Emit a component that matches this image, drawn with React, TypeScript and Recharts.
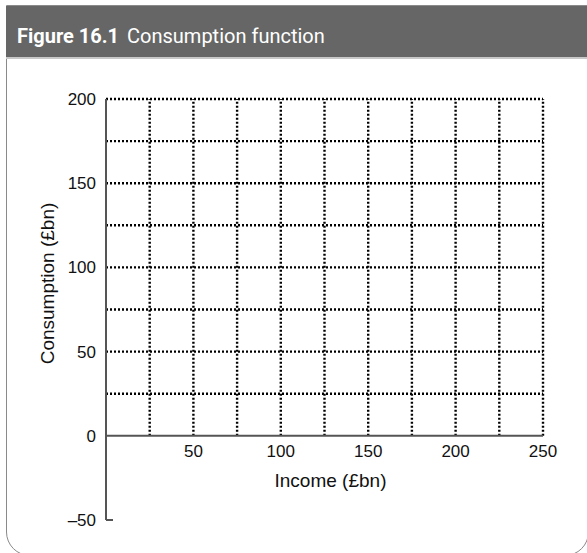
import { ComposedChart, Label, Line, XAxis, YAxis } from "recharts";

const X_TICKS = [50, 100, 150, 200, 250];
const Y_TICKS = [-50, 0, 50, 100, 150, 200];
const X_GRID = [25, 50, 75, 100, 125, 150, 175, 200, 225, 250];
const Y_GRID = [25, 50, 75, 100, 125, 150, 175, 200];
const X_MIN = 0;
const X_MAX = 250;
const Y_MIN = -50;
const Y_MAX = 200;

const AXIS = "#555";
const DOTS = "#000";
const TEXT = "#111";
const FONT = "'Liberation Sans', Arial, sans-serif";
const DASH = "2 2";

// each grid / axis segment is a tiny two-point series
type Pt = { x: number; y: number };
const vLines: Pt[][] = X_GRID.map((x) => [
  { x, y: 0 },
  { x, y: Y_MAX },
]);
const hLines: Pt[][] = Y_GRID.map((y) => [
  { x: X_MIN, y },
  { x: X_MAX, y },
]);
const xAxisLine: Pt[] = [
  { x: X_MIN, y: 0 },
  { x: X_MAX, y: 0 },
];
const bottomTick: Pt[] = [
  { x: X_MIN, y: Y_MIN },
  { x: 4, y: Y_MIN },
];

// book style uses an en dash for negatives
const fmtTick = (v: number) => (v < 0 ? `\u2013${Math.abs(v)}` : String(v));

function YTitle(props: any) {
  const { viewBox } = props;
  const x = viewBox.x + 1;
  const y = viewBox.y + viewBox.height / 2 - 26;
  return (
    <text
      x={x}
      y={y}
      transform={`rotate(-90, ${x}, ${y})`}
      textAnchor="middle"
      dominantBaseline="central"
      fontSize={19}
      fill={TEXT}
      fontFamily={FONT}
    >
      Consumption (£bn)
    </text>
  );
}

export default function App() {
  return (
    <div
      style={{
        position: "absolute",
        top: 0,
        left: 0,
        width: 587,
        height: 553,
        overflow: "hidden",
        background: "#fff",
      }}
    >
      {/* frame with rounded bottom corners */}
      <div
        style={{
          position: "absolute",
          left: 6,
          top: 5,
          width: 583,
          height: 551,
          border: "1.5px solid #8a8a8a",
          borderRadius: "0 0 24px 24px",
          boxSizing: "border-box",
        }}
      />
      <div
        style={{
          position: "absolute",
          left: 6,
          top: 6,
          width: 590,
          height: 53,
          overflow: "hidden",
          background: "#666",
          borderBottom: "2px solid #c8c8c8",
          boxSizing: "border-box",
          color: "#fff",
          fontFamily: "Roboto, sans-serif",
          fontSize: 20,
          lineHeight: "60px",
          paddingLeft: 11,
          whiteSpace: "nowrap",
        }}
      >
        <span style={{ fontWeight: 700 }}>Figure 16.1</span>
        <span style={{ marginLeft: 8 }}>Consumption function</span>
      </div>

      <div style={{ position: "absolute", top: 0, left: 0 }}>
        <ComposedChart
          width={587}
          height={553}
          margin={{ top: 99, right: 44, bottom: 3, left: 46 }}
        >
          <XAxis
            type="number"
            dataKey="x"
            domain={[X_MIN, X_MAX]}
            ticks={X_TICKS}
            height={30}
            axisLine={false}
            tickLine={false}
            tickSize={0}
            tickMargin={0}
            interval={0}
            tick={{ dy: -75, fill: TEXT, fontSize: 17, fontFamily: FONT }}
          >
            <Label
              value="Income (£bn)"
              position="insideBottom"
              offset={63}
              dx={6}
              fill={TEXT}
              fontSize={19}
              fontFamily={FONT}
            />
          </XAxis>
          <YAxis
            type="number"
            dataKey="y"
            domain={[Y_MIN, Y_MAX]}
            ticks={Y_TICKS}
            width={60}
            interval={0}
            tickLine={false}
            tickSize={0}
            tickMargin={10}
            tickFormatter={fmtTick}
            axisLine={{ stroke: AXIS, strokeWidth: 2 }}
            tick={{ fill: TEXT, fontSize: 17, fontFamily: FONT }}
          >
            <Label content={<YTitle />} />
          </YAxis>

          {vLines.map((d, i) => (
            <Line
              key={`v${i}`}
              data={d}
              dataKey="y"
              type="linear"
              stroke={DOTS}
              strokeWidth={2.4}
              strokeDasharray={DASH}
              dot={false}
              activeDot={false}
              isAnimationActive={false}
            />
          ))}
          {hLines.map((d, i) => (
            <Line
              key={`h${i}`}
              data={d}
              dataKey="y"
              type="linear"
              stroke={DOTS}
              strokeWidth={2.4}
              strokeDasharray={DASH}
              dot={false}
              activeDot={false}
              isAnimationActive={false}
            />
          ))}
          <Line
            data={xAxisLine}
            dataKey="y"
            type="linear"
            stroke={AXIS}
            strokeWidth={2}
            dot={false}
            activeDot={false}
            isAnimationActive={false}
          />
          <Line
            data={bottomTick}
            dataKey="y"
            type="linear"
            stroke={AXIS}
            strokeWidth={2}
            dot={false}
            activeDot={false}
            isAnimationActive={false}
          />
        </ComposedChart>
      </div>
    </div>
  );
}
